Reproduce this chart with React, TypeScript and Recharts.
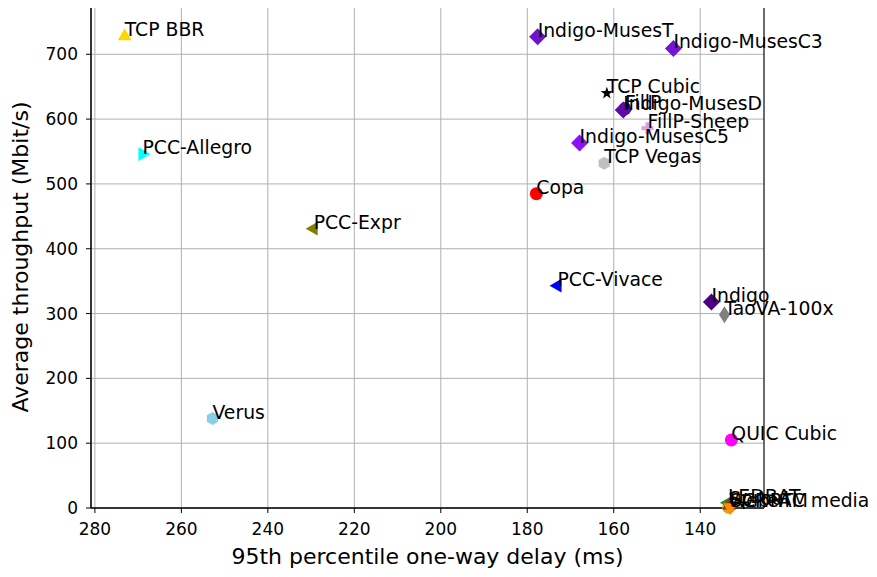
import React from 'react';
import { ScatterChart, Scatter, XAxis, YAxis, CartesianGrid, ReferenceArea } from 'recharts';

const schemes = [
  'TCP BBR', 'PCC-Allegro', 'PCC-Expr', 'Verus', 'Indigo-MusesT', 'Indigo-MusesC3',
  'TCP Cubic', 'FillP', 'Indigo-MusesD', 'FillP-Sheep', 'Indigo-MusesC5', 'TCP Vegas',
  'Copa', 'PCC-Vivace', 'Indigo', 'TaoVA-100x', 'QUIC Cubic', 'WebRTC media',
  'LEDBAT', 'Sprout', 'SCReAM',
];
const delays = [
  273.1, 269.0, 229.4, 252.8, 177.6, 146.2,
  161.6, 157.4, 157.8, 152.2, 167.9, 162.2,
  177.9, 173.0, 137.4, 134.4, 132.8, 133.4,
  133.6, 133.3, 133.1,
];
const throughputs = [
  728, 546, 431, 138, 727, 709,
  640, 616, 614, 586, 563, 532,
  485, 343, 318, 298, 105, 1,
  8, 4, 1,
];
const markerColors = [
  '#ffd700', '#00ffff', '#808000', '#87ceeb', '#6f14cc', '#7614d6',
  '#000000', '#5c0aa8', '#5c0aa8', '#dda0dd', '#8c0ff5', '#c0c0c0',
  '#ff0000', '#0000ff', '#4b0082', '#808080', '#ff00ff', '#daa520',
  '#228b22', '#a52a2a', '#ff8c00',
];
const markerShapes = [
  'triUp', 'triRight', 'triLeft', 'hex', 'diamond', 'diamond',
  'star', 'circle', 'diamond', 'plus', 'diamond', 'hex',
  'circle', 'triLeft', 'diamond', 'thinDiamond', 'circle', 'circle',
  'triLeft', 'triUp', 'triDown',
];
const xTicks = [280, 260, 240, 220, 200, 180, 160, 140];
const yTicks = [0, 100, 200, 300, 400, 500, 600, 700];
const xDomain: [number, number] = [125.25, 280.9];
const yDomain: [number, number] = [0, 774.5];

const data = schemes.map((name, i) => ({ name, x: delays[i], y: throughputs[i], i }));

const FONT = 'DejaVu Sans';

function poly(pts: number[][]) {
  return pts.map((p) => p.join(',')).join(' ');
}

function MarkerShape(props: any) {
  const { cx, cy, payload } = props;
  if (cx == null || cy == null) return null;
  const i = payload.i;
  const color = markerColors[i];
  const shape = markerShapes[i];
  switch (shape) {
    case 'triUp': {
      const r = 8;
      return <polygon points={poly([[cx, cy - r], [cx + r * 0.866, cy + r * 0.5], [cx - r * 0.866, cy + r * 0.5]])} fill={color} />;
    }
    case 'triDown': {
      const r = 8;
      return <polygon points={poly([[cx, cy + r], [cx + r * 0.866, cy - r * 0.5], [cx - r * 0.866, cy - r * 0.5]])} fill={color} />;
    }
    case 'triRight': {
      const r = 8;
      return <polygon points={poly([[cx + r, cy], [cx - r * 0.5, cy - r * 0.866], [cx - r * 0.5, cy + r * 0.866]])} fill={color} />;
    }
    case 'triLeft': {
      const r = 8;
      return <polygon points={poly([[cx - r, cy], [cx + r * 0.5, cy - r * 0.866], [cx + r * 0.5, cy + r * 0.866]])} fill={color} />;
    }
    case 'diamond': {
      const r = 8.5;
      return <polygon points={poly([[cx, cy - r], [cx + r, cy], [cx, cy + r], [cx - r, cy]])} fill={color} />;
    }
    case 'thinDiamond': {
      const r = 8.5;
      const w = 5.5;
      return <polygon points={poly([[cx, cy - r], [cx + w, cy], [cx, cy + r], [cx - w, cy]])} fill={color} />;
    }
    case 'hex': {
      const r = 6.5;
      const pts: number[][] = [];
      for (let k = 0; k < 6; k++) {
        const a = (Math.PI / 3) * k - Math.PI / 2;
        pts.push([cx + r * Math.cos(a), cy + r * Math.sin(a)]);
      }
      return <polygon points={poly(pts)} fill={color} />;
    }
    case 'star': {
      const ro = 6.5;
      const ri = 2.6;
      const pts: number[][] = [];
      for (let k = 0; k < 10; k++) {
        const r = k % 2 === 0 ? ro : ri;
        const a = (Math.PI / 5) * k - Math.PI / 2;
        pts.push([cx + r * Math.cos(a), cy + r * Math.sin(a)]);
      }
      return <polygon points={poly(pts)} fill={color} />;
    }
    case 'plus': {
      const r = 6;
      const t = 2;
      return (
        <polygon
          points={poly([
            [cx - t, cy - r], [cx + t, cy - r], [cx + t, cy - t], [cx + r, cy - t], [cx + r, cy + t],
            [cx + t, cy + t], [cx + t, cy + r], [cx - t, cy + r], [cx - t, cy + t], [cx - r, cy + t],
            [cx - r, cy - t], [cx - t, cy - t],
          ])}
          fill={color}
        />
      );
    }
    default:
      return <circle cx={cx} cy={cy} r={6.5} fill={color} />;
  }
}

function LabelShape(props: any) {
  const { cx, cy, payload } = props;
  if (cx == null || cy == null) return null;
  return (
    <text x={cx} y={cy} fontFamily={FONT} fontSize={18.8} fill="#000">
      {payload.name}
    </text>
  );
}

export default function App() {
  return (
    <div style={{ margin: -8, width: 877, height: 577, background: '#fff' }}>
      <ScatterChart width={877} height={577} margin={{ top: 6, right: 113, left: 0, bottom: 0 }}>
        <CartesianGrid stroke="#b0b0b0" strokeWidth={1} />
        <XAxis
          type="number"
          dataKey="x"
          domain={xDomain}
          reversed
          ticks={xTicks}
          height={69}
          tickSize={5}
          tickMargin={10}
          stroke="#000"
          tick={{ fill: '#000', fontSize: 17, fontFamily: FONT }}
          label={{
            content: () => (
              <text x={427.5} y={564} textAnchor="middle" fontFamily={FONT} fontSize={22} fill="#000">
                95th percentile one-way delay (ms)
              </text>
            ),
          }}
        />
        <YAxis
          type="number"
          dataKey="y"
          domain={yDomain}
          ticks={yTicks}
          width={91}
          tickSize={5}
          tickMargin={8}
          stroke="#000"
          tick={{ fill: '#000', fontSize: 17, fontFamily: FONT }}
          label={{
            content: () => (
              <text
                x={28}
                y={257}
                transform="rotate(-90 28 257)"
                textAnchor="middle"
                fontFamily={FONT}
                fontSize={22}
                fill="#000"
              >
                Average throughput (Mbit/s)
              </text>
            ),
          }}
        />
        <ReferenceArea
          x1={xDomain[0]}
          x2={xDomain[1]}
          y1={yDomain[0]}
          y2={yDomain[1]}
          fill="none"
          fillOpacity={0}
          stroke="#000"
          strokeWidth={1}
          ifOverflow="visible"
        />
        <Scatter data={data} shape={MarkerShape} isAnimationActive={false} />
        <Scatter data={data} shape={LabelShape} isAnimationActive={false} />
      </ScatterChart>
    </div>
  );
}
